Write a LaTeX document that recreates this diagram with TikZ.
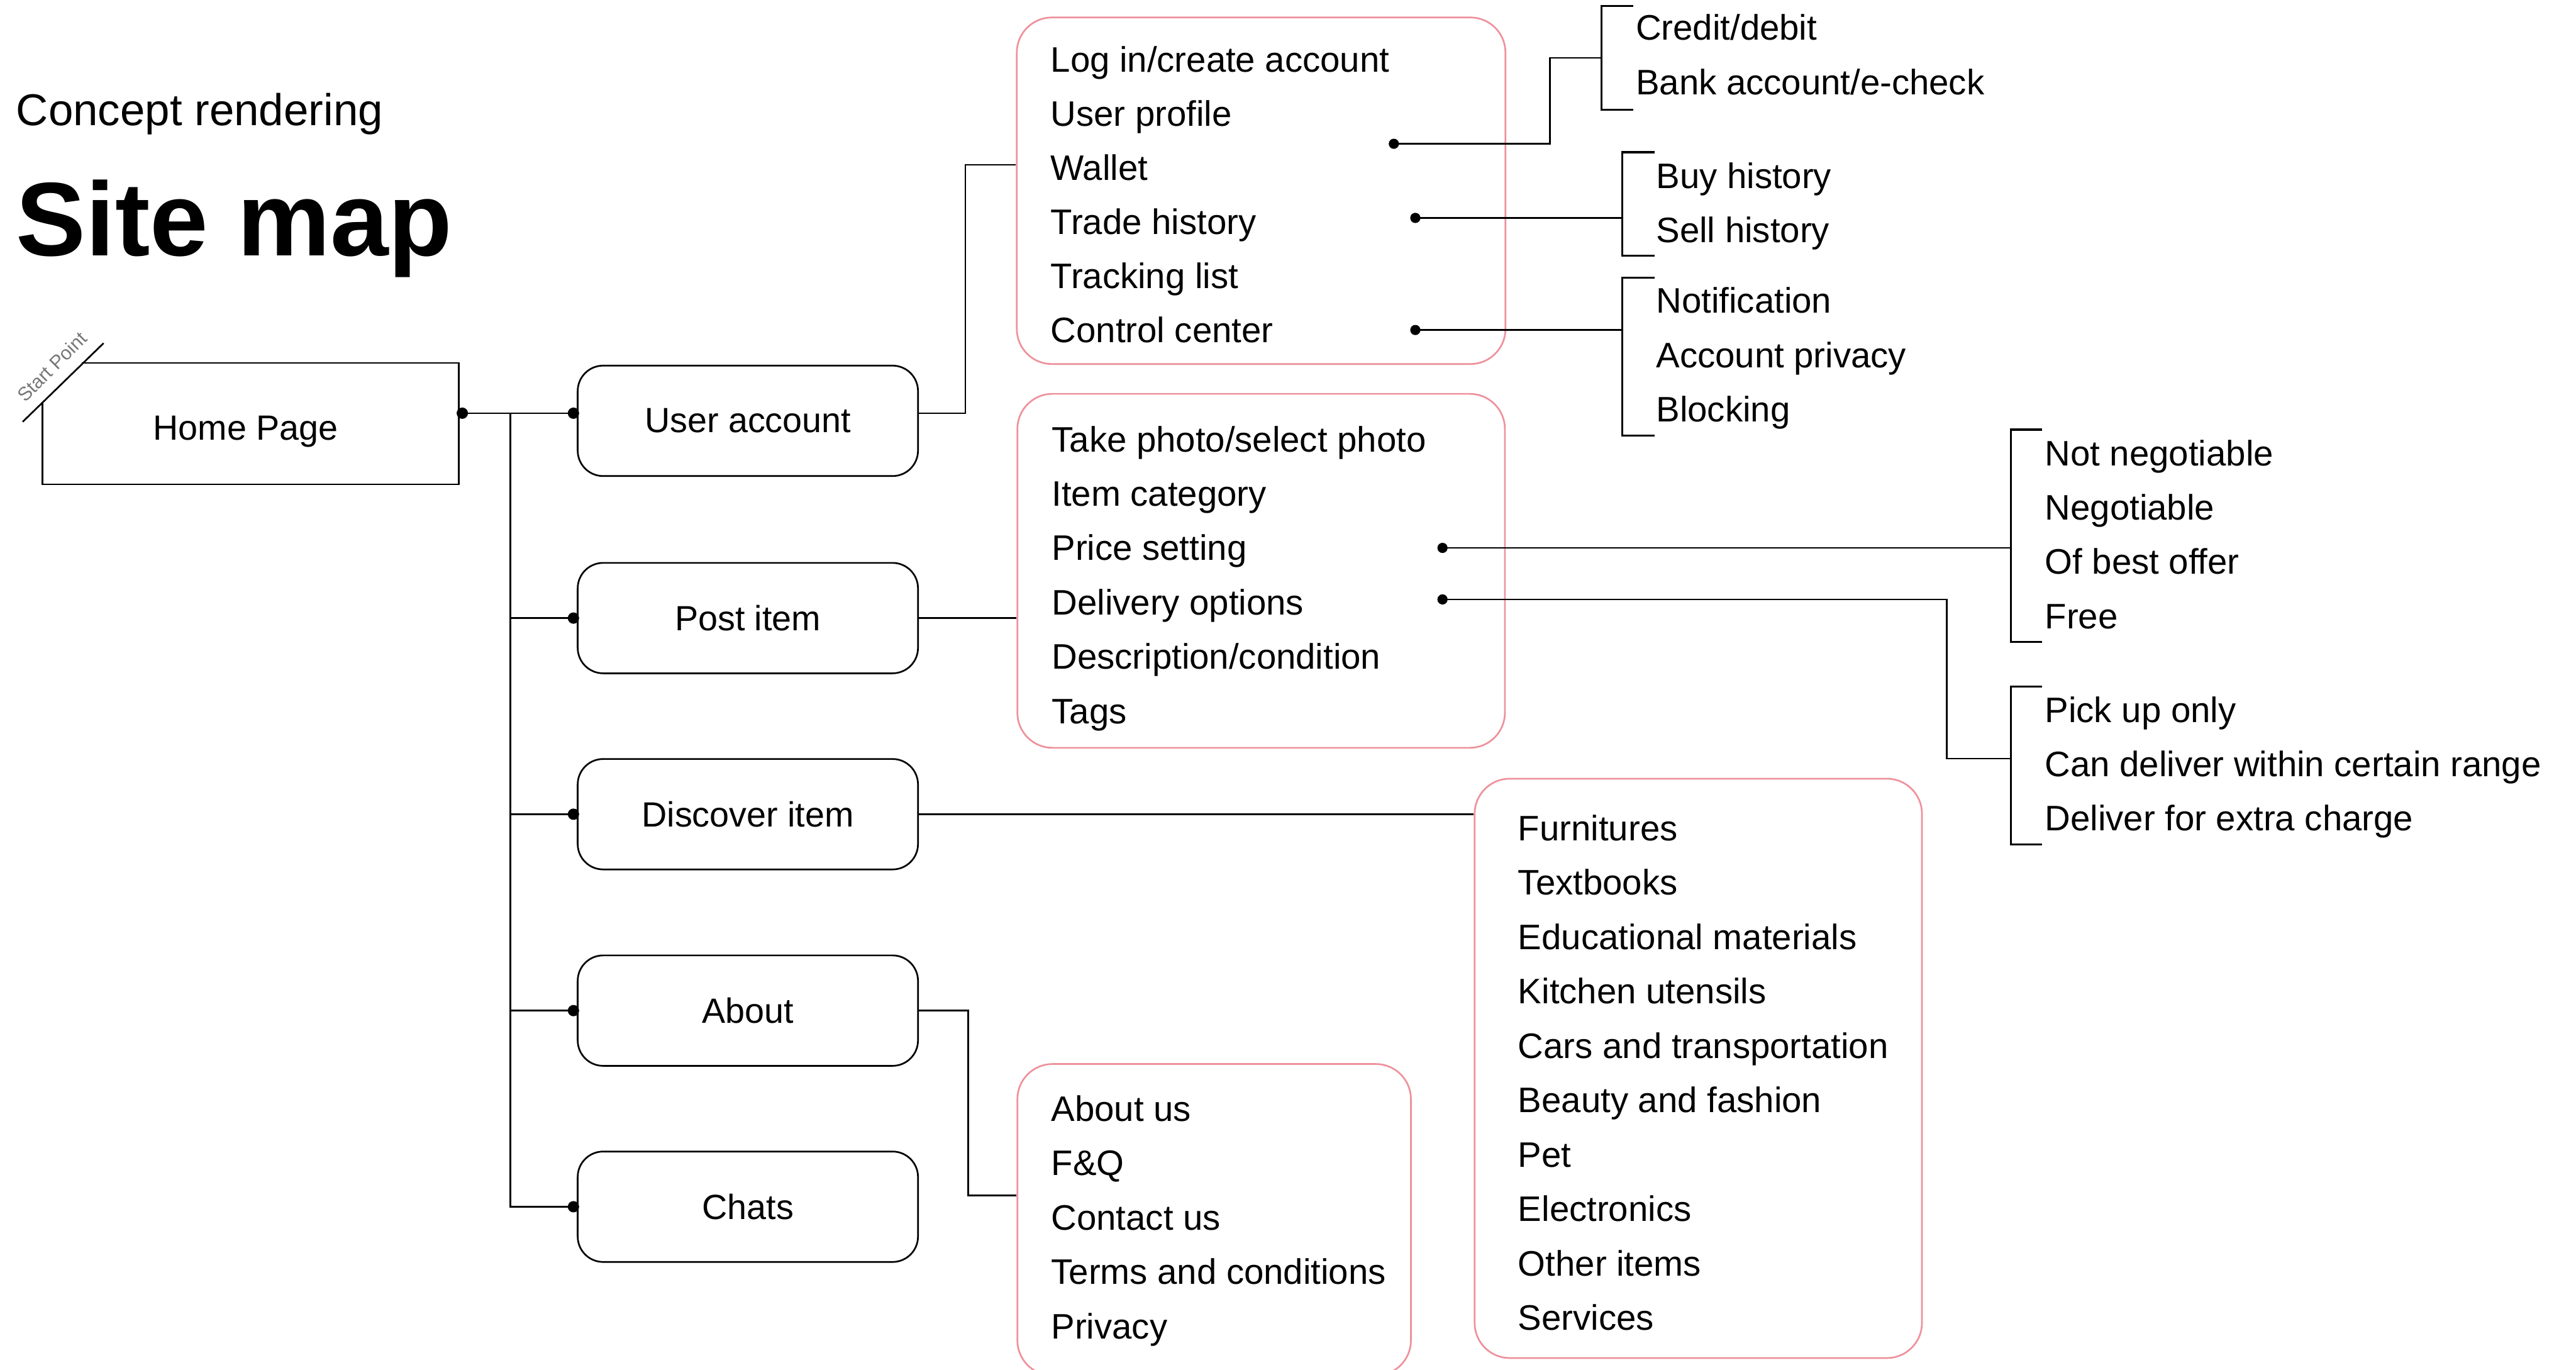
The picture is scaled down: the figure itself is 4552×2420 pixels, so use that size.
\documentclass[tikz,border=0pt]{standalone}
\usepackage{fontspec}
\setmainfont{Liberation Sans}
\usetikzlibrary{calc}
\definecolor{pinkline}{RGB}{238,145,155}
\definecolor{startgray}{RGB}{120,120,120}
% draws an open bracket: #1 = spine x, #2 = tick end x, #3 = top y, #4 = bottom y
\newcommand\sitebracket[4]{\draw[brk] (#2,#3) -- (#1,#3) -- (#1,#4) -- (#2,#4);}
\begin{document}
\begin{tikzpicture}[x=0.01cm,y=-0.01cm,
  conn/.style={line width=0.8pt, black},
  brk/.style={line width=1pt, black},
  pagebox/.style={draw, line width=0.85pt, rounded corners=0.45cm,
    minimum width=6.01cm, minimum height=1.95cm, inner sep=0pt,
    font=\fontsize{17.6}{20}\selectfont},
  listbox/.style={draw=pinkline, line width=0.85pt, rounded corners=0.62cm, inner sep=0pt},
  item/.style={anchor=base west, inner sep=0pt, font=\fontsize{17.8}{20}\selectfont},
  dotr/.style={radius=0.1cm},
]
\useasboundingbox (0,0) rectangle (4552,2420);
\fill[white] (0,0) rectangle (4552,2420);

% titles
\node[anchor=base west, inner sep=0pt, font=\fontsize{22.4}{26}\selectfont] (concept) at (28,222) {Concept rendering};
\node[anchor=base west, inner sep=0pt, font=\fontsize{52.6}{60}\selectfont\bfseries] (title) at (28,452) {Site map};

% start page with its cut corner
\node[minimum width=7.34cm, minimum height=2.13cm, inner sep=0pt,
  font=\fontsize{17.6}{20}\selectfont] (home) at (443,748.5) {};
\node[inner sep=0pt, text depth=0pt, font=\fontsize{17.6}{20}\selectfont] (hometext) at (434,756) {Home Page};
\draw[line width=0.85pt] ($(home.north west)+(0,69)$) -- (home.south west) -- (home.south east)
  -- (home.north east) -- ($(home.north west)+(69,0)$);
\draw[line width=0.85pt] ($(home.north west)+(-35,104)$) -- ($(home.north west)+(108,-35)$);
\node[rotate=45, text=startgray, inner sep=0pt, font=\fontsize{9.6}{11}\selectfont] (start) at (92,648) {Start Point};

% main sections
\node[pagebox] (ua) at (1321.5,743.5) {User account};
\node[pagebox] (post) at (1321.5,1092) {Post item};
\node[pagebox] (disc) at (1321.5,1438.5) {Discover item};
\node[pagebox] (about) at (1321.5,1785.5) {About};
\node[pagebox] (chats) at (1321.5,2132) {Chats};

\coordinate (uain) at ($(ua.west)+(0,-13.5)$);
\coordinate (trunk) at (902,730);
\draw[conn] (home.east |- uain) -- (uain);
\draw[conn] (trunk) |- (chats.west);
\foreach \n in {post,disc,about} \draw[conn] (trunk |- \n.west) -- (\n.west);
\fill ($(home.east |- uain)+(6,0)$) circle[dotr];
\fill ($(uain)+(-6,0)$) circle[dotr];
\foreach \n in {post,disc,about,chats} \fill ($(\n.west)+(-6,0)$) circle[dotr];

% sub-page panels
\node[listbox, minimum width=8.63cm, minimum height=6.12cm] (ualist) at (2228.5,337) {};
\node[listbox, minimum width=8.61cm, minimum height=6.25cm] (postlist) at (2228.5,1008.5) {};
\node[listbox, minimum width=7.90cm, minimum height=10.23cm] (disclist) at (3001,1887.5) {};
\node[listbox, minimum width=6.95cm, minimum height=5.50cm] (aboutlist) at (2145.5,2155) {};

\coordinate (ualistin) at ($(ualist.west)+(0,-46)$);
\coordinate (aboutin) at ($(aboutlist.west)+(0,-43)$);
\draw[conn] (ua.east |- uain) -- ++(82,0) |- (ualistin);
\draw[conn] (post.east) -- (postlist.west |- post.east);
\draw[conn] (disc.east) -- (disclist.west |- disc.east);
\draw[conn] (about.east) -- ++(87,0) |- (aboutin);

\foreach \t [count=\i from 0] in {Log in/create account, User profile, Wallet, Trade history, Tracking list, Control center}
  \node[item] (ua-\i) at (1856,127+\i*95.6) {\t};
\foreach \t [count=\i from 0] in {Take photo/select photo, Item category, Price setting, Delivery options, Description/condition, Tags}
  \node[item] (post-\i) at (1858,798+\i*96) {\t};
\foreach \t [count=\i from 0] in {Furnitures, Textbooks, Educational materials, Kitchen utensils, Cars and transportation, Beauty and fashion, Pet, Electronics, Other items, Services}
  \node[item] (disc-\i) at (2682,1485+\i*96.1) {\t};
\foreach \t [count=\i from 0] in {About us, F\&Q, Contact us, Terms and conditions, Privacy}
  \node[item] (about-\i) at (1857,1981+\i*96) {\t};

% detail branches
\coordinate (dprofile) at (2463,254);
\coordinate (dtrade) at (2501,385);
\coordinate (dcontrol) at (2501,583);
\coordinate (dprice) at (2549,968);
\coordinate (ddeliv) at (2549,1059);
\coordinate (br1) at (2830,102);
\coordinate (br2) at (2867,385);
\coordinate (br3) at (2867,583);
\coordinate (br4) at (3553,968);
\coordinate (br5) at (3553,1340);

\draw[conn] (dprofile) -- ++(276,0) |- (br1);
\draw[conn] (dtrade) -- (br2);
\draw[conn] (dcontrol) -- (br3);
\draw[conn] (dprice) -- (br4);
\draw[conn] (ddeliv) -- ++(891,0) |- (br5);
\foreach \c in {dprofile,dtrade,dcontrol,dprice,ddeliv} \fill (\c) circle[radius=0.09cm];

\sitebracket{2830}{2886}{11}{194}
\sitebracket{2867}{2924}{269}{452}
\sitebracket{2867}{2924}{491}{770}
\sitebracket{3553}{3608}{759}{1134}
\sitebracket{3553}{3608}{1213}{1492}

\node[item] (pay-0) at (2890,71) {Credit/debit};
\node[item] (pay-1) at (2890,167) {Bank account/e-check};
\node[item] (hist-0) at (2926,333) {Buy history};
\node[item] (hist-1) at (2926,428) {Sell history};
\foreach \t [count=\i from 0] in {Notification, Account privacy, Blocking}
  \node[item] (ctrl-\i) at (2926,553+\i*96) {\t};
\foreach \t [count=\i from 0] in {Not negotiable, Negotiable, Of best offer, Free}
  \node[item] (price-\i) at (3613,823+\i*95.8) {\t};
\foreach \t [count=\i from 0] in {Pick up only, Can deliver within certain range, Deliver for extra charge}
  \node[item] (deliv-\i) at (3613,1276+\i*96) {\t};
\end{tikzpicture}
\end{document}
